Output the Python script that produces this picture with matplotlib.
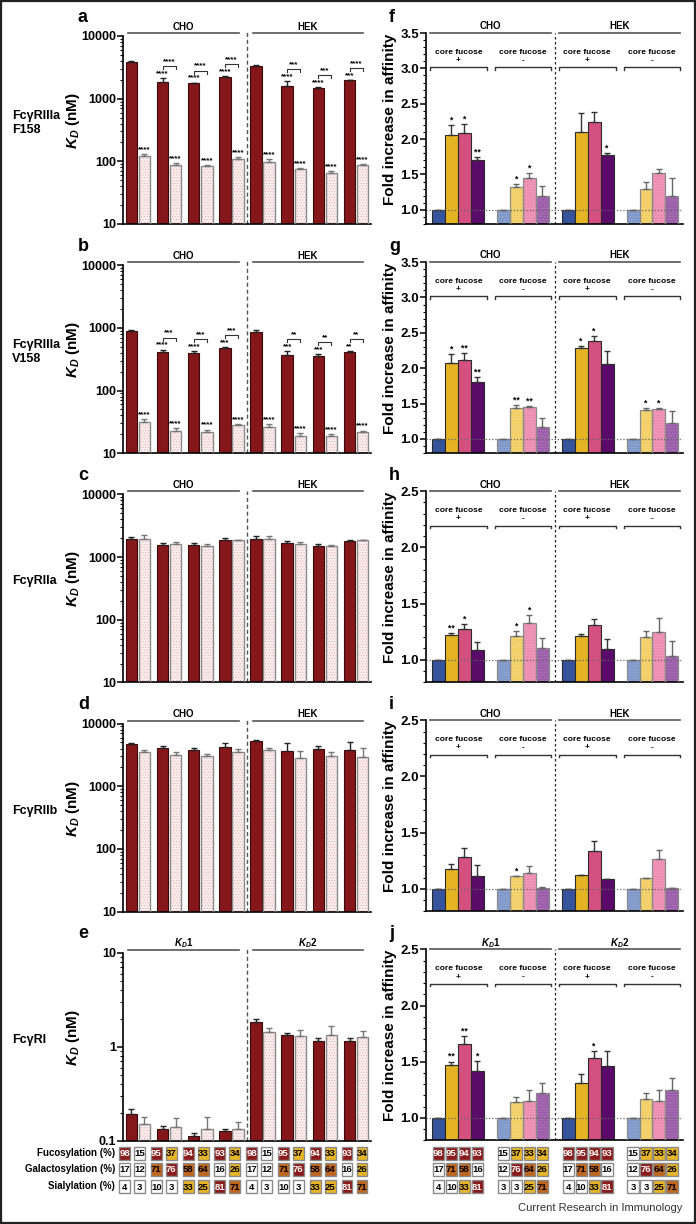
import matplotlib
matplotlib.use('Agg')
import matplotlib.pyplot as plt
import matplotlib.transforms as mtransforms
from matplotlib.patches import Rectangle
from matplotlib.ticker import FuncFormatter, MultipleLocator, NullFormatter
import numpy as np

plt.rcParams['font.family'] = ['Liberation Sans', 'DejaVu Sans']
plt.rcParams['font.weight'] = 'bold'
plt.rcParams['axes.labelweight'] = 'bold'
plt.rcParams['mathtext.fontset'] = 'custom'
plt.rcParams['mathtext.it'] = 'Liberation Sans:italic:bold'
plt.rcParams['mathtext.rm'] = 'Liberation Sans:bold'
plt.rcParams['hatch.linewidth'] = 0.5

# ---------------- data ----------------
receptors = ['FcγRIIIa\nF158', 'FcγRIIIa\nV158', 'FcγRIIa', 'FcγRIIb', 'FcγRI']
cell_lines = ['CHO', 'HEK']
kd_groups = [r'$K_D$1', r'$K_D$2']

# KD (nM), 8 glycoform pairs (4 CHO + 4 HEK): fucosylated (dark) / afucosylated (light)
a_dark = [3900, 1850, 1750, 2250, 3300, 1600, 1480, 1950]
a_dark_err = [120, 280, 50, 50, 150, 280, 40, 50]
a_light = [120, 89, 84, 110, 99, 76, 66, 87]
a_light_err = [10, 4, 2, 8, 9, 2, 4, 3]
a_dark_sig = ['', '****', '****', '****', '', '****', '****', '***']
a_light_sig = ['****'] * 8
a_pair_sig = ['', '****', '****', '****', '', '***', '***', '****']

b_dark = [880, 405, 400, 475, 860, 375, 360, 415]
b_dark_err = [45, 45, 25, 12, 80, 45, 25, 12]
b_light = [31.5, 22.5, 21.8, 28.3, 26.5, 19, 18.6, 22]
b_light_err = [3, 2.5, 2, 1, 2.5, 2, 1.5, 1]
b_dark_sig = ['', '****', '****', '***', '', '***', '***', '**']
b_light_sig = ['****'] * 8
b_pair_sig = ['', '***', '***', '***', '', '**', '**', '**']

c_dark = [1940, 1570, 1560, 1850, 1960, 1650, 1520, 1800]
c_dark_err = [180, 130, 140, 130, 230, 130, 100, 50]
c_light = [1950, 1600, 1520, 1850, 1920, 1620, 1520, 1850]
c_light_err = [300, 140, 100, 50, 260, 100, 50, 30]

d_dark = [4750, 4060, 3730, 4280, 5350, 3720, 4000, 3800]
d_dark_err = [200, 400, 420, 600, 200, 1100, 450, 1200]
d_light = [3500, 3110, 3000, 3460, 3780, 2830, 3020, 2950]
d_light_err = [300, 360, 270, 440, 360, 870, 450, 1100]

e_dark = [0.193, 0.132, 0.113, 0.128, 1.85, 1.32, 1.15, 1.15]
e_dark_err = [0.027, 0.013, 0.007, 0.007, 0.15, 0.08, 0.1, 0.1]
e_light = [0.151, 0.14, 0.135, 0.135, 1.42, 1.30, 1.35, 1.27]
e_light_err = [0.029, 0.035, 0.043, 0.022, 0.18, 0.22, 0.3, 0.22]

# fold increase in affinity: 4 groups (CHO fuc+, CHO fuc-, HEK fuc+, HEK fuc-) x 4 glycoforms
f_vals = [[1, 2.06, 2.08, 1.70], [1, 1.32, 1.445, 1.20], [1, 2.10, 2.245, 1.78], [1, 1.30, 1.52, 1.20]]
f_err = [[0, 0.14, 0.13, 0.05], [0, 0.05, 0.075, 0.14], [0, 0.27, 0.145, 0.02], [0, 0.10, 0.06, 0.25]]
f_sig = [['', '*', '*', '**'], ['', '*', '*', ''], ['', '', '', '*'], ['', '', '', '']]

g_vals = [[1, 2.07, 2.12, 1.80], [1, 1.44, 1.45, 1.17], [1, 2.29, 2.38, 2.06], [1, 1.41, 1.43, 1.22]]
g_err = [[0, 0.13, 0.10, 0.07], [0, 0.04, 0.02, 0.12], [0, 0.03, 0.07, 0.19], [0, 0.03, 0.01, 0.18]]
g_sig = [['', '*', '**', '**'], ['', '**', '**', ''], ['', '*', '*', ''], ['', '*', '*', '']]

h_vals = [[1, 1.22, 1.275, 1.09], [1, 1.215, 1.325, 1.10], [1, 1.21, 1.31, 1.095], [1, 1.20, 1.25, 1.035]]
h_err = [[0, 0.02, 0.04, 0.07], [0, 0.04, 0.07, 0.09], [0, 0.02, 0.05, 0.09], [0, 0.06, 0.12, 0.13]]
h_sig = [['', '**', '*', ''], ['', '*', '*', ''], ['', '', '', ''], ['', '', '', '']]

i_vals = [[1, 1.18, 1.285, 1.115], [1, 1.11, 1.14, 1.01], [1, 1.125, 1.335, 1.09], [1, 1.10, 1.265, 1.01]]
i_err = [[0, 0.04, 0.075, 0.095], [0, 0.006, 0.06, 0.006], [0, 0, 0.095, 0], [0, 0, 0.085, 0]]
i_sig = [['', '', '', ''], ['', '*', '', ''], ['', '', '', ''], ['', '', '', '']]

j_vals = [[1, 1.467, 1.66, 1.42], [1, 1.145, 1.155, 1.22], [1, 1.315, 1.535, 1.46], [1, 1.165, 1.15, 1.245]]
j_err = [[0, 0.035, 0.065, 0.09], [0, 0.045, 0.09, 0.095], [0, 0.075, 0.06, 0.135], [0, 0.06, 0.095, 0.11]]
j_sig = [['', '**', '**', '*'], ['', '', '', ''], ['', '', '*', ''], ['', '', '', '']]

# glycan composition (%) of the 8 glycoforms (dark, light alternating)
fucosylation = [98, 15, 95, 37, 94, 33, 93, 34]
galactosylation = [17, 12, 71, 76, 58, 64, 16, 26]
sialylation = [4, 3, 10, 3, 33, 25, 81, 71]
table_rows = ['Fucosylation (%)', 'Galactosylation (%)', 'Sialylation (%)']

# ---------------- style ----------------
RED = '#85171a'
PINK = '#fbeeee'
PINK_DOT = '#e6b3b5'
FUC_POS = ['#35549b', '#e5b423', '#d4517f', '#5a0a68']
FUC_NEG = ['#7f98ca', '#f2cf66', '#ec8db0', '#9b5ca9']

W, H = 696, 1224
fig = plt.figure(figsize=(W / 100, H / 100), dpi=100)


def px_axes(x0, top, w, h):
    return fig.add_axes([x0 / W, 1 - (top + h) / H, w / W, h / H])


def shift(ax, y, px):
    d = ax.transData.transform((0, y))
    return ax.transData.inverted().transform((d[0], d[1] + px))[1]


def style_axes(ax):
    for s in ['top', 'right']:
        ax.spines[s].set_visible(False)
    for s in ['left', 'bottom']:
        ax.spines[s].set_linewidth(1.2)
    ax.set_xticks([])
    ax.tick_params(axis='y', which='major', length=4, width=1.1, labelsize=9, pad=1)
    ax.tick_params(axis='y', which='minor', length=2, width=0.8)


def box_colour(v):
    if v >= 75:
        return '#8b1a1a', 'white'
    if v >= 50:
        return '#c0651c', 'black'
    if v >= 25:
        return '#e7b526', 'black'
    return 'white', 'black'


def box_row(ax, xs, vals, yc, w):
    tr = mtransforms.blended_transform_factory(ax.transData, fig.transFigure)
    hh = 13 / H
    for x, v in zip(xs, vals):
        fc, tc = box_colour(v)
        ax.add_patch(Rectangle((x - w / 2, yc - hh / 2), w, hh, transform=tr, fc=fc,
                               ec='#8a8a8a', lw=1.0, clip_on=False))
        ax.text(x, yc, str(v), transform=tr, ha='center', va='center_baseline', fontsize=6.8,
                color=tc, clip_on=False)


# ---------------- left column: KD ----------------
left_data = [
    (a_dark, a_dark_err, a_light, a_light_err, (10, 10000), a_dark_sig, a_light_sig, a_pair_sig),
    (b_dark, b_dark_err, b_light, b_light_err, (10, 10000), b_dark_sig, b_light_sig, b_pair_sig),
    (c_dark, c_dark_err, c_light, c_light_err, (10, 10000), None, None, None),
    (d_dark, d_dark_err, d_light, d_light_err, (10, 10000), None, None, None),
    (e_dark, e_dark_err, e_light, e_light_err, (0.1, 10), None, None, None),
]
letters_left = ['a', 'b', 'c', 'd', 'e']
left_axes = []
for k, (dk, dke, lt, lte, ylim, dsig, lsig, psig) in enumerate(left_data):
    top = 36 + 229.2 * k
    ax = px_axes(123, top, 248, 188)
    left_axes.append(ax)
    ax.set_yscale('log')
    ax.set_ylim(*ylim)
    ax.set_xlim(-0.48, 7.48)
    style_axes(ax)
    ax.yaxis.set_major_formatter(FuncFormatter(lambda v, p: f'{v:g}'))
    ax.yaxis.set_minor_formatter(NullFormatter())

    x = np.arange(8)
    xd, xl = x - 0.21, x + 0.21
    ax.bar(xd, dk, width=0.37, color=RED, edgecolor='#3b0b0b', lw=0.8, zorder=2)
    ax.bar(xl, lt, width=0.37, color=PINK, edgecolor=PINK_DOT, hatch='......', lw=0, zorder=2)
    ax.bar(xl, lt, width=0.37, fill=False, edgecolor='#8a8a8a', lw=1.0, zorder=3)
    ax.errorbar(xd, dk, yerr=[np.zeros(8), dke], fmt='none', ecolor='#222222',
                elinewidth=1.0, capsize=2.5, capthick=1.0, zorder=4)
    ax.errorbar(xl, lt, yerr=[np.zeros(8), lte], fmt='none', ecolor='#777777',
                elinewidth=1.0, capsize=2.5, capthick=1.0, zorder=4)

    ax.axvline(3.5, ymin=0, ymax=1.02, ls=(0, (3, 2)), color='#555555', lw=1.0, clip_on=False)

    tr = mtransforms.blended_transform_factory(ax.transData, ax.transAxes)
    heads = kd_groups if k == 4 else cell_lines
    for (x0, x1), lab in zip([(-0.32, 3.24), (3.69, 7.21)], heads):
        ax.plot([x0, x1], [1.016, 1.016], color='#555555', lw=1.2, transform=tr, clip_on=False)
        ax.text((x0 + x1) / 2, 1.05, lab, transform=tr, ha='center', va='center', fontsize=7)

    if dsig is not None:
        for i in range(8):
            dtop = dk[i] + dke[i]
            ltop = lt[i] + lte[i]
            ax.text(xl[i], shift(ax, ltop, 1), lsig[i], ha='center', va='bottom', fontsize=5.8)
            if dsig[i]:
                ax.text(xd[i], shift(ax, dtop, 1), dsig[i], ha='center', va='bottom', fontsize=5.8)
            if psig[i]:
                yb = shift(ax, dtop, 12)
                yt = shift(ax, dtop, 9)
                ax.plot([xd[i], xd[i], xl[i], xl[i]], [yt, yb, yb, yt], color='#333333', lw=0.8)
                ax.text(x[i], shift(ax, dtop, 13), psig[i], ha='center', va='bottom', fontsize=5.8)

    ax.set_ylabel(r'$K_D$ (nM)', fontsize=11)
    ax.yaxis.set_label_coords(-0.165, 0.55)
    fig.text(78 / W, 1 - (top - 19) / H, letters_left[k], fontsize=13, ha='left', va='center')
    fig.text(12 / W, 1 - (top + 87) / H, receptors[k], fontsize=9, ha='left', va='center',
             linespacing=1.25)

# left composition table
ax = left_axes[-1]
pairs = np.arange(8) * 1.02 - 0.19
box_x = np.ravel(np.column_stack([pairs - 0.24, pairs + 0.24]))
for row_vals, lab, yc in zip([fucosylation, galactosylation, sialylation], table_rows, [1153, 1169, 1186]):
    box_row(ax, box_x, row_vals + row_vals, 1 - yc / H, 0.35)
    fig.text(115 / W, 1 - yc / H, lab, ha='right', va='center', fontsize=7)

# ---------------- right column: fold increase ----------------
right_data = [
    (f_vals, f_err, f_sig, 3.5), (g_vals, g_err, g_sig, 3.5), (h_vals, h_err, h_sig, 2.5),
    (i_vals, i_err, i_sig, 2.5), (j_vals, j_err, j_sig, 2.5),
]
letters_right = ['f', 'g', 'h', 'i', 'j']
right_axes = []
for k, (vals, errs, sigs, ytop) in enumerate(right_data):
    top = 33 + 229.1 * k
    ax = px_axes(426, top, 257, 191)
    right_axes.append(ax)
    ax.set_ylim(0.8, ytop)
    ax.set_xlim(-0.95, 18.85)
    style_axes(ax)
    ax.tick_params(axis='y', which='major', labelsize=9.5)
    ax.yaxis.set_major_locator(MultipleLocator(0.5))
    ax.yaxis.set_minor_locator(MultipleLocator(0.1))
    ax.yaxis.set_major_formatter(FuncFormatter(lambda v, p: f'{v:.1f}'))

    for g in range(4):
        xs = g * 5 + np.arange(4)
        pal = FUC_POS if g % 2 == 0 else FUC_NEG
        v = np.array(vals[g])
        e = np.array(errs[g])
        if g % 2 == 0:
            ax.bar(xs, v, width=1.0, bottom=0, color=pal, edgecolor='#2a2a2a', lw=0.8, zorder=2)
            ecol = '#333333'
        else:
            dots = [tuple(0.75 * np.array(matplotlib.colors.to_rgb(c)) + 0.25) for c in pal]
            for xx, vv, cc, dd in zip(xs, v, pal, dots):
                ax.bar(xx, vv, width=1.0, color=cc, edgecolor=dd, hatch='......', lw=0, zorder=2)
            ax.bar(xs, v, width=1.0, fill=False, edgecolor='#8a8a8a', lw=0.9, zorder=3)
            ecol = '#666666'
        ax.errorbar(xs, v, yerr=[np.zeros(4), e], fmt='none', ecolor=ecol, elinewidth=1.0,
                    capsize=2.5, capthick=1.0, zorder=4)
        for xx, vv, ee, s in zip(xs, v, e, sigs[g]):
            if s:
                ax.text(xx, shift(ax, vv + ee, 0.5), s, ha='center', va='bottom', fontsize=6.2)

    ax.axhline(1.0, ls=(0, (1, 1.5)), color='#666666', lw=0.9, zorder=5)
    ax.axvline(9.0, ls=(0, (2, 2)), color='#222222', lw=0.9, zorder=1)

    tr = mtransforms.blended_transform_factory(ax.transData, ax.transAxes)
    heads = kd_groups if k == 4 else cell_lines
    for (x0, x1), lab in zip([(-0.65, 8.65), (9.27, 18.65)], heads):
        ax.plot([x0, x1], [1.0, 1.0], color='#555555', lw=1.2, transform=tr, clip_on=False)
        ax.text((x0 + x1) / 2, 1.035, lab, transform=tr, ha='center', va='center', fontsize=7)
    for (x0, x1), sign in zip([(-0.65, 3.73), (4.35, 8.65), (9.27, 13.65), (14.27, 18.65)],
                              ['+', '-', '+', '-']):
        ax.plot([x0, x0, x1, x1], [0.808, 0.82, 0.82, 0.808], color='#333333', lw=1.0, transform=tr)
        ax.text((x0 + x1) / 2, 0.90, 'core fucose', transform=tr, ha='center', va='center', fontsize=6)
        ax.text((x0 + x1) / 2, 0.855, sign, transform=tr, ha='center', va='center', fontsize=6)

    ax.set_ylabel('Fold increase in affinity', fontsize=11)
    ax.yaxis.set_label_coords(-0.113, 0.55)
    fig.text(389 / W, 1 - (top - 16) / H, letters_right[k], fontsize=13, ha='left', va='center')

# right composition table: fucosylated glycoforms, then afucosylated, for each cell line
ax = right_axes[-1]
xs_all = np.concatenate([g * 5 + np.arange(4) for g in range(4)])
for row_vals, yc in zip([fucosylation, galactosylation, sialylation], [1153, 1169, 1186]):
    fuc_pos = row_vals[0::2]
    fuc_neg = row_vals[1::2]
    box_row(ax, xs_all, fuc_pos + fuc_neg + fuc_pos + fuc_neg, 1 - yc / H, 0.86)

fig.text(682 / W, 1 - 1208 / H, 'Current Research in Immunology', ha='right', va='center',
         fontsize=8, fontweight='normal', color='#333333')
fig.add_artist(Rectangle((0.002, 0.001), 0.996, 0.998, transform=fig.transFigure, fill=False,
                         lw=1.6, ec='#222222'))

fig.savefig('out.png', dpi=100)
